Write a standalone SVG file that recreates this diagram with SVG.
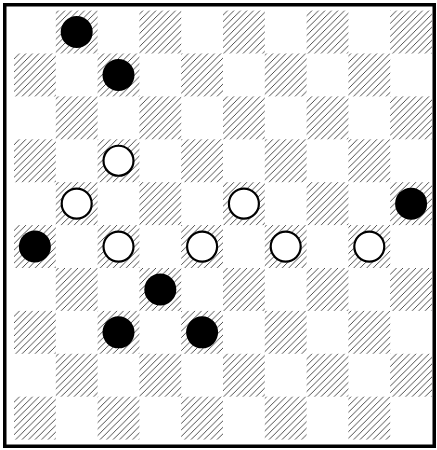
<svg xmlns="http://www.w3.org/2000/svg" width="437" height="450" viewBox="0 0 437 450">
<defs>
<pattern id="hatch" patternUnits="userSpaceOnUse" width="6.5" height="6.5">
<path d="M-1,1 L1,-1 M0,6.5 L6.5,0 M5.5,7.5 L7.5,5.5" stroke="#000" stroke-width="0.7" fill="none"/>
</pattern>
<style>
.sq{fill:url(#hatch);}
.b{fill:#000;}
.w{fill:#fff;stroke:#000;stroke-width:2.2;}
</style>
</defs>
<rect x="0" y="0" width="437" height="450" fill="#fff"/>
<rect x="4.75" y="4.75" width="429.5" height="441.5" fill="none" stroke="#000" stroke-width="3.5"/>
<g id="board">
<g transform="translate(0,10.6)">
<rect class="sq" x="55.8" y="0" width="41.8" height="42.9"/><rect class="sq" x="139.4" y="0" width="41.8" height="42.9"/><rect class="sq" x="223" y="0" width="41.8" height="42.9"/><rect class="sq" x="306.6" y="0" width="41.8" height="42.9"/><rect class="sq" x="390.2" y="0" width="41.8" height="42.9"/>
</g>
<g transform="translate(0,53.5)">
<rect class="sq" x="14" y="0" width="41.8" height="42.9"/><rect class="sq" x="97.6" y="0" width="41.8" height="42.9"/><rect class="sq" x="181.2" y="0" width="41.8" height="42.9"/><rect class="sq" x="264.8" y="0" width="41.8" height="42.9"/><rect class="sq" x="348.4" y="0" width="41.8" height="42.9"/>
</g>
<g transform="translate(0,96.4)">
<rect class="sq" x="55.8" y="0" width="41.8" height="42.9"/><rect class="sq" x="139.4" y="0" width="41.8" height="42.9"/><rect class="sq" x="223" y="0" width="41.8" height="42.9"/><rect class="sq" x="306.6" y="0" width="41.8" height="42.9"/><rect class="sq" x="390.2" y="0" width="41.8" height="42.9"/>
</g>
<g transform="translate(0,139.3)">
<rect class="sq" x="14" y="0" width="41.8" height="42.9"/><rect class="sq" x="97.6" y="0" width="41.8" height="42.9"/><rect class="sq" x="181.2" y="0" width="41.8" height="42.9"/><rect class="sq" x="264.8" y="0" width="41.8" height="42.9"/><rect class="sq" x="348.4" y="0" width="41.8" height="42.9"/>
</g>
<g transform="translate(0,182.2)">
<rect class="sq" x="55.8" y="0" width="41.8" height="42.9"/><rect class="sq" x="139.4" y="0" width="41.8" height="42.9"/><rect class="sq" x="223" y="0" width="41.8" height="42.9"/><rect class="sq" x="306.6" y="0" width="41.8" height="42.9"/><rect class="sq" x="390.2" y="0" width="41.8" height="42.9"/>
</g>
<g transform="translate(0,225.1)">
<rect class="sq" x="14" y="0" width="41.8" height="42.9"/><rect class="sq" x="97.6" y="0" width="41.8" height="42.9"/><rect class="sq" x="181.2" y="0" width="41.8" height="42.9"/><rect class="sq" x="264.8" y="0" width="41.8" height="42.9"/><rect class="sq" x="348.4" y="0" width="41.8" height="42.9"/>
</g>
<g transform="translate(0,268)">
<rect class="sq" x="55.8" y="0" width="41.8" height="42.9"/><rect class="sq" x="139.4" y="0" width="41.8" height="42.9"/><rect class="sq" x="223" y="0" width="41.8" height="42.9"/><rect class="sq" x="306.6" y="0" width="41.8" height="42.9"/><rect class="sq" x="390.2" y="0" width="41.8" height="42.9"/>
</g>
<g transform="translate(0,310.9)">
<rect class="sq" x="14" y="0" width="41.8" height="42.9"/><rect class="sq" x="97.6" y="0" width="41.8" height="42.9"/><rect class="sq" x="181.2" y="0" width="41.8" height="42.9"/><rect class="sq" x="264.8" y="0" width="41.8" height="42.9"/><rect class="sq" x="348.4" y="0" width="41.8" height="42.9"/>
</g>
<g transform="translate(0,353.8)">
<rect class="sq" x="55.8" y="0" width="41.8" height="42.9"/><rect class="sq" x="139.4" y="0" width="41.8" height="42.9"/><rect class="sq" x="223" y="0" width="41.8" height="42.9"/><rect class="sq" x="306.6" y="0" width="41.8" height="42.9"/><rect class="sq" x="390.2" y="0" width="41.8" height="42.9"/>
</g>
<g transform="translate(0,396.7)">
<rect class="sq" x="14" y="0" width="41.8" height="42.9"/><rect class="sq" x="97.6" y="0" width="41.8" height="42.9"/><rect class="sq" x="181.2" y="0" width="41.8" height="42.9"/><rect class="sq" x="264.8" y="0" width="41.8" height="42.9"/><rect class="sq" x="348.4" y="0" width="41.8" height="42.9"/>
</g>
</g>
<g id="pieces">
<g id="b1"><circle class="b" cx="76.7" cy="32.05" r="16"/></g>
<g id="b2"><circle class="b" cx="118.5" cy="74.95" r="16"/></g>
<g id="w1"><circle class="w" cx="118.5" cy="160.75" r="15"/></g>
<g id="w2"><circle class="w" cx="76.7" cy="203.65" r="15"/></g>
<g id="w3"><circle class="w" cx="243.9" cy="203.65" r="15"/></g>
<g id="b3"><circle class="b" cx="411.1" cy="203.65" r="16"/></g>
<g id="b4"><circle class="b" cx="34.9" cy="246.55" r="16"/></g>
<g id="w4"><circle class="w" cx="118.5" cy="246.55" r="15"/></g>
<g id="w5"><circle class="w" cx="202.1" cy="246.55" r="15"/></g>
<g id="w6"><circle class="w" cx="285.7" cy="246.55" r="15"/></g>
<g id="w7"><circle class="w" cx="369.3" cy="246.55" r="15"/></g>
<g id="b5"><circle class="b" cx="160.3" cy="289.45" r="16"/></g>
<g id="b6"><circle class="b" cx="118.5" cy="332.35" r="16"/></g>
<g id="b7"><circle class="b" cx="202.1" cy="332.35" r="16"/></g>
</g>
</svg>
